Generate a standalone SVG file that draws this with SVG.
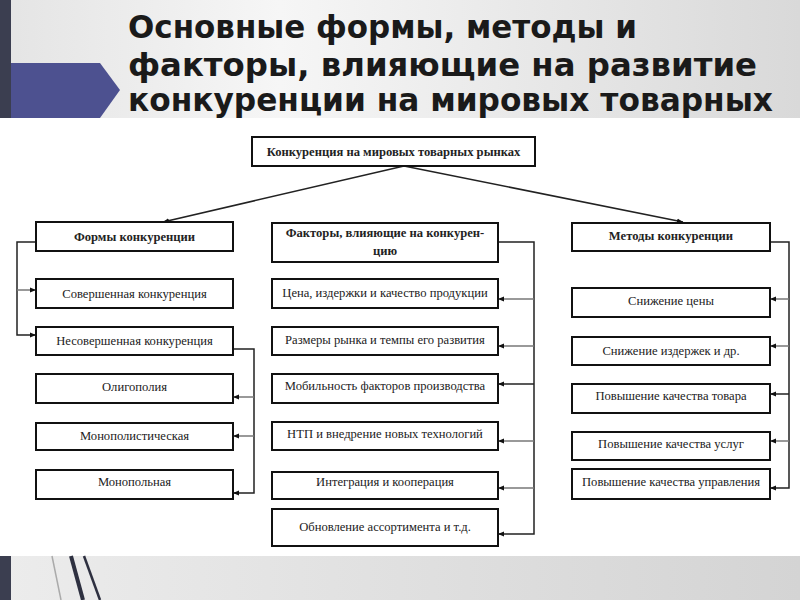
<svg xmlns="http://www.w3.org/2000/svg" width="800" height="600" viewBox="0 0 800 600">
<defs>
<linearGradient id="hdr" x1="0" y1="0" x2="1" y2="0">
<stop offset="0" stop-color="#e4e4e4"/>
<stop offset="0.35" stop-color="#f6f6f6"/>
<stop offset="1" stop-color="#d9d9d9"/>
</linearGradient>
<linearGradient id="ftr" x1="0" y1="0" x2="1" y2="0">
<stop offset="0" stop-color="#ececec"/>
<stop offset="0.5" stop-color="#e0e0e0"/>
<stop offset="1" stop-color="#d4d4d4"/>
</linearGradient>
<marker id="ah" viewBox="0 0 10 10" refX="10" refY="5" markerWidth="6" markerHeight="6" orient="auto" markerUnits="userSpaceOnUse">
<path d="M0,1 L10,5 L0,9 z" fill="#111"/>
</marker>
<style>
.box{fill:#fff;stroke:#111;stroke-width:2}
.t{font-family:"Liberation Serif","DejaVu Serif","Times New Roman",serif;font-size:12.6px;fill:#222;text-anchor:middle}
.b{font-weight:bold}
.title{font-family:"DejaVu Sans Condensed","DejaVu Sans",sans-serif;font-weight:bold;font-size:32px;fill:#1a1a1a}
.c{fill:none;stroke:#222;stroke-width:1.5}
.g{fill:none;stroke:#777;stroke-width:1.5}
</style>
</defs>
<rect x="0" y="0" width="800" height="600" fill="#fff"/>
<rect x="0" y="0" width="800" height="118" fill="url(#hdr)"/>
<rect x="0" y="0" width="11" height="118" fill="#3b3e50"/>
<polygon points="11,63 100,63 120,90 100,118 11,118" fill="#4d5190"/>
<text class="title" x="128" y="38" textLength="509" lengthAdjust="spacingAndGlyphs">Основные формы, методы и</text>
<text class="title" x="128" y="76" textLength="629" lengthAdjust="spacingAndGlyphs">факторы, влияющие на развитие</text>
<text class="title" x="128" y="111" textLength="645" lengthAdjust="spacingAndGlyphs">конкуренции на мировых товарных</text>
<rect x="0" y="556" width="800" height="44" fill="url(#ftr)"/>
<rect x="0" y="556" width="11" height="44" fill="#3b3e50"/>
<line x1="52" y1="556" x2="61" y2="600" stroke="#aaa" stroke-width="1.5"/>
<line x1="71" y1="556" x2="83" y2="600" stroke="#2e3040" stroke-width="4"/>
<line x1="84" y1="556" x2="100" y2="600" stroke="#2e3040" stroke-width="2.5"/>

<g id="connectors">
<line class="c" x1="404" y1="166" x2="163" y2="222" marker-end="url(#ah)"/>
<line class="c" x1="404" y1="166" x2="683" y2="222" marker-end="url(#ah)"/>
<path class="c" d="M36,242 H17 V335 H36" marker-end="url(#ah)"/>
<path class="g" d="M17,290 H36" marker-end="url(#ah)"/>
<path class="c" d="M233,349 H254 V493 H233" marker-end="url(#ah)"/>
<path class="g" d="M254,397 H233" marker-end="url(#ah)"/>
<path class="g" d="M254,436 H233" marker-end="url(#ah)"/>
<path class="c" d="M498,242 H534 V534 H498" marker-end="url(#ah)"/>
<path class="g" d="M534,299 H498" marker-end="url(#ah)"/>
<path class="g" d="M534,346 H498" marker-end="url(#ah)"/>
<path class="c" d="M534,384 H498" marker-end="url(#ah)"/>
<path class="g" d="M534,441 H498" marker-end="url(#ah)"/>
<path class="g" d="M534,488 H498" marker-end="url(#ah)"/>
<path class="c" d="M770,242 H789 V488 H770" marker-end="url(#ah)"/>
<path class="g" d="M789,299 H770" marker-end="url(#ah)"/>
<path class="g" d="M789,346 H770" marker-end="url(#ah)"/>
<path class="c" d="M789,394 H770" marker-end="url(#ah)"/>
<path class="g" d="M789,441 H770" marker-end="url(#ah)"/>
</g>

<g id="n-root"><rect class="box" x="252" y="137" width="283" height="29"/><text class="t b" x="393.5" y="156">Конкуренция на мировых товарных рынках</text></g>

<g id="n-forms"><rect class="box" x="36" y="222" width="197" height="29"/><text class="t b" x="134.5" y="241">Формы конкуренции</text></g>
<g id="n-perfect"><rect class="box" x="36" y="279" width="197" height="29"/><text class="t" x="134.5" y="298">Совершенная конкуренция</text></g>
<g id="n-imperfect"><rect class="box" x="36" y="327" width="197" height="28"/><text class="t" x="134.5" y="345">Несовершенная конкуренция</text></g>
<g id="n-oligopoly"><rect class="box" x="36" y="374" width="197" height="29"/><text class="t" x="134.5" y="391">Олигополия</text></g>
<g id="n-monopolistic"><rect class="box" x="36" y="423" width="197" height="27"/><text class="t" x="134.5" y="440">Монополистическая</text></g>
<g id="n-monopoly"><rect class="box" x="36" y="470" width="197" height="29"/><text class="t" x="134.5" y="486">Монопольная</text></g>

<g id="n-factors"><rect class="box" x="272" y="223" width="226" height="39"/><text class="t b" x="385" y="237">Факторы, влияющие на конкурен-</text><text class="t b" x="385" y="255">цию</text></g>
<g id="n-price"><rect class="box" x="272" y="279" width="226" height="29"/><text class="t" x="385" y="297">Цена, издержки и качество продукции</text></g>
<g id="n-market"><rect class="box" x="272" y="327" width="226" height="28"/><text class="t" x="385" y="344">Размеры рынка и темпы его развития</text></g>
<g id="n-mobility"><rect class="box" x="272" y="374" width="226" height="29"/><text class="t" x="385" y="390">Мобильность факторов производства</text></g>
<g id="n-ntp"><rect class="box" x="272" y="422" width="226" height="28"/><text class="t" x="385" y="438">НТП и внедрение новых технологий</text></g>
<g id="n-integration"><rect class="box" x="272" y="472" width="226" height="27"/><text class="t" x="385" y="486">Интеграция и кооперация</text></g>
<g id="n-assortment"><rect class="box" x="272" y="509" width="226" height="37"/><text class="t" x="385" y="531">Обновление ассортимента и т.д.</text></g>

<g id="n-methods"><rect class="box" x="572" y="223" width="198" height="28"/><text class="t b" x="671" y="240">Методы конкуренции</text></g>
<g id="n-price-cut"><rect class="box" x="572" y="288" width="198" height="29"/><text class="t" x="671" y="305">Снижение цены</text></g>
<g id="n-cost-cut"><rect class="box" x="572" y="337" width="198" height="28"/><text class="t" x="671" y="355">Снижение издержек и др.</text></g>
<g id="n-goods-q"><rect class="box" x="572" y="384" width="198" height="29"/><text class="t" x="671" y="400">Повышение качества товара</text></g>
<g id="n-service-q"><rect class="box" x="572" y="432" width="198" height="28"/><text class="t" x="671" y="448">Повышение качества услуг</text></g>
<g id="n-mgmt-q"><rect class="box" x="572" y="469" width="198" height="30"/><text class="t" x="671" y="486">Повышение качества управления</text></g>
</svg>
